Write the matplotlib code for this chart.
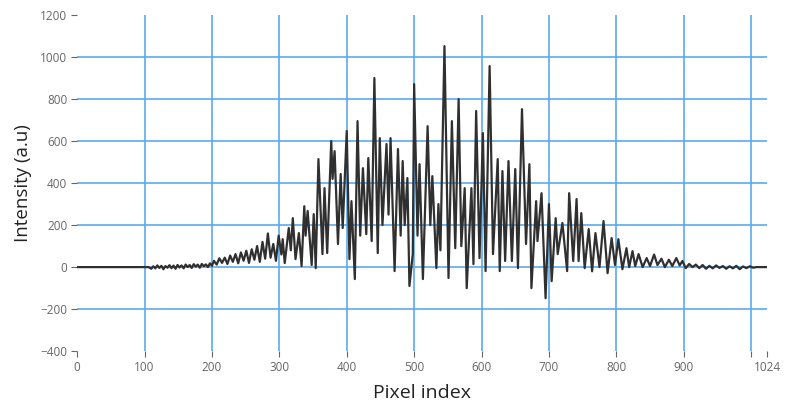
import numpy as np
import matplotlib.pyplot as plt

# DATOS: extremos de la senal (indice de pixel, intensidad)
pixel_idx = [0, 106,
             110, 113, 116, 119, 122, 125, 128, 131, 134, 137, 140, 143, 146, 149,
             152, 155, 158, 161, 164, 167, 170, 173, 176, 179, 182, 185, 188, 191,
             194, 197, 200,
             203, 207, 211, 215, 219, 223, 227, 231, 235, 239, 243, 247, 251, 255,
             259, 263, 267, 271, 275, 279, 283, 287, 291, 295, 299, 303, 305, 308,
             314, 317, 320, 324, 329, 333,
             337, 339, 342, 348, 351, 354, 358, 364, 367, 371, 377, 379, 382, 387,
             391, 394, 400, 404, 407, 412, 416, 420, 424, 429, 432, 437,
             441, 446, 449, 453, 459, 462, 465, 471, 476, 480, 483, 486, 490, 493,
             498, 500, 505, 508, 513, 520, 524, 527, 533, 536, 539, 545, 551, 556, 561,
             566, 570, 575, 578, 585, 588, 592, 597, 602, 606, 612, 617, 624, 627,
             631, 635, 640, 645, 650, 654, 660, 666, 671, 674, 681, 683, 689, 695,
             700, 704, 710, 713, 720, 727, 730, 736, 741, 744, 748, 753, 759, 764,
             769, 775, 781, 787, 793, 798, 803, 809, 815, 819, 824, 828, 833, 839,
             845, 850, 856, 861, 867, 872, 878, 883, 889, 894, 898, 903, 908, 913,
             918, 923, 928, 933, 938, 943, 948, 953, 958, 963, 968, 973, 978, 983,
             988, 993, 998, 1003, 1008, 1024]

intensity = [0, 0,
             -8, 4, -6, 8, -4, 6, -10, 5, -3, 9, -5, 7, -8, 10,
             -2, 8, -6, 12, 0, 10, -4, 14, 2, 12, -3, 15, 4, 13,
             0, 18, 6,
             30, 12, 42, 20, 45, 15, 55, 25, 62, 18, 70, 30, 78, 20,
             85, 35, 100, 25, 120, 40, 160, 45, 110, 30, 150, 60, 133, 19,
             186, 80, 233, 38, 162, 5,
             290, 150, 267, 10, 252, -5, 514, 62, 376, 67, 600, 420, 552, 110,
             443, 186, 648, 38, 314, -57, 695, 150, 471, 157, 519, 124,
             900, 67, 614, 200, 586, 250, 614, -19, 562, 150, 505, 200, 424, -90,
             62, 871, 150, 490, -57, 671, 200, 433, -5, 300, 80, 1052, -52, 695, 90,
             800, 100, 376, -100, 376, 14, 743, 43, 638, -19, 957, 62, 514, -19,
             457, 29, 505, 29, 467, -5, 752, 110, 490, -100, 314, 124, 352, -148,
             300, -67, 233, 62, 210, -19, 352, 29, 324, 29, 257, -5, 181, -20,
             162, 0, 219, -29, 138, 10, 133, -10, 90, 0, 76, 5, 62, 0,
             43, 5, 60, 10, 40, 0, 35, 5, 43, 8, 29, -5, 15, 0,
             12, -5, 10, -8, 6, -6, 8, -4, 5, -8, 4, -6, 6, -10,
             3, -5, 4, -3, 0, 0]

xticks = [0, 100, 200, 300, 400, 500, 600, 700, 800, 900, 1000, 1024]
xlabels = ['0', '100', '200', '300', '400', '500', '600', '700', '800', '900', '', '1024']
yticks = [-400, -200, 0, 200, 400, 600, 800, 1000, 1200]

plt.rcParams['font.family'] = ['Open Sans', 'DejaVu Sans']

fig = plt.figure(figsize=(7.87, 4.18), dpi=100)
ax = fig.add_axes([0.098, 0.160, 0.877, 0.804])

# GRAFICA
gcolor = '#5aaaf0'
for xv in xticks[1:-1]:
    ax.axvline(xv, color=gcolor, lw=1.2, zorder=0)
for yv in yticks[1:-1]:
    ax.axhline(yv, color=gcolor, lw=1.2, zorder=0)

ax.plot(pixel_idx, intensity, color='#303030', lw=1.6, zorder=2)

ax.set_xlim(0, 1024)
ax.set_ylim(-400, 1200)
ax.set_xticks(xticks)
ax.set_xticklabels(xlabels)
ax.set_yticks(yticks)
ax.tick_params(direction='out', length=4, width=0.8, colors='#666666',
               labelsize=8.5, pad=3)
for s in ax.spines.values():
    s.set_visible(False)

ax.set_xlabel('Pixel index', fontsize=14, color='#222222', labelpad=7)
ax.set_ylabel('Intensity (a.u)', fontsize=13.5, color='#222222', labelpad=6)

plt.savefig('out.png', dpi=100)
